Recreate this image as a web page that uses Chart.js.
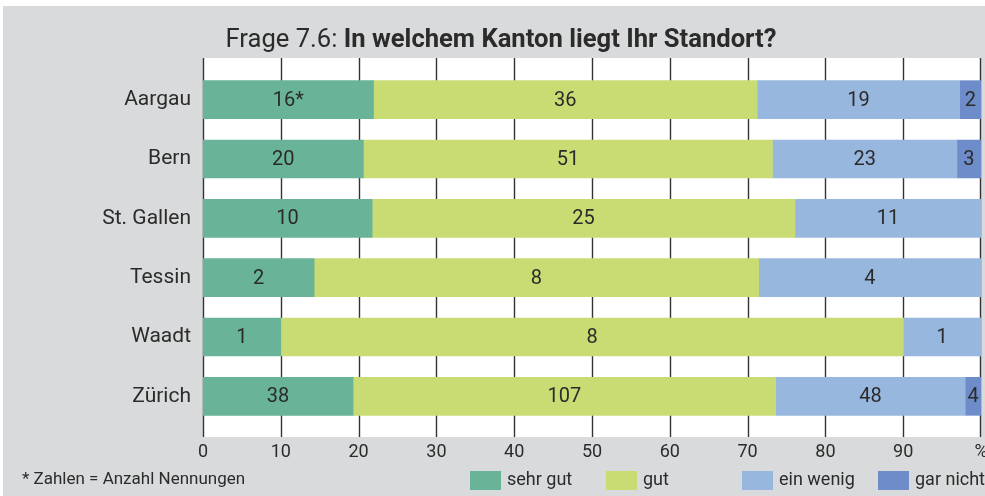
<!DOCTYPE html>
<html>
<head>
<meta charset="utf-8">
<script src="https://cdn.jsdelivr.net/npm/chart.js@4.4.0/dist/chart.umd.min.js"></script>
<style>
  body { margin: 0; background: #fff; }
  #wrap { position: absolute; left: 3px; top: 6px; }
</style>
</head>
<body>
<div id="wrap"><canvas id="kantonChart" width="982" height="490"></canvas></div>
<script>
// Anzahl Nennungen pro Kanton
const kantone = ['Aargau', 'Bern', 'St. Gallen', 'Tessin', 'Waadt', 'Zürich'];
const sehrGut = [16, 20, 10, 2, 1, 38];
const gut = [36, 51, 25, 8, 8, 107];
const einWenig = [19, 23, 11, 4, 1, 48];
const garNicht = [2, 3, 0, 0, 0, 4];
const xTickLabels = ['0', '10', '20', '30', '40', '50', '60', '70', '80', '90', '%'];

const serien = [
    { label: 'sehr gut', counts: sehrGut, color: '#69b398' },
    { label: 'gut', counts: gut, color: '#c9dc73' },
    { label: 'ein wenig', counts: einWenig, color: '#98b7df' },
    { label: 'gar nicht', counts: garNicht, color: '#6d8cc9' }
];

const totals = kantone.map((k, i) => serien.reduce((s, d) => s + d.counts[i], 0));

const FONT = "Roboto, sans-serif";
const TEXT = '#2b2b2b';

// hintergrund, weisse plotflaeche, titel, gitterlinien
const backdrop = {
    id: 'backdrop',
    beforeDraw(chart) {
        const { ctx, chartArea: a, width, height } = chart;
        ctx.save();
        ctx.fillStyle = '#d9dadb';
        ctx.fillRect(0, 0, width, height);
        ctx.fillStyle = '#fff';
        ctx.fillRect(a.left, a.top - 12, a.right - a.left, a.bottom - a.top + 23);

        // Titel: normal + fett
        const p1 = 'Frage 7.6: ';
        const p2 = 'In welchem Kanton liegt Ihr Standort?';
        ctx.fillStyle = TEXT;
        ctx.textBaseline = 'alphabetic';
        ctx.font = '25.6px ' + FONT;
        const w1 = ctx.measureText(p1).width;
        ctx.font = 'bold 25.6px ' + FONT;
        const w2 = ctx.measureText(p2).width;
        const x0 = 498 - (w1 + w2) / 2;
        ctx.font = '25.6px ' + FONT;
        ctx.fillText(p1, x0, 41);
        ctx.font = 'bold 25.6px ' + FONT;
        ctx.fillText(p2, x0 + w1, 41);
        ctx.restore();
    },
    beforeDatasetsDraw(chart) {
        const { ctx, chartArea: a, scales: { x } } = chart;
        ctx.save();
        ctx.strokeStyle = '#333';
        ctx.lineWidth = 1.4;
        for (let v = 0; v <= 100; v += 10) {
            const px = Math.round(x.getPixelForValue(v)) + (v === 100 ? -0.5 : 0.5);
            ctx.beginPath();
            ctx.moveTo(px, a.top - 12);
            ctx.lineTo(px, a.bottom + 11);
            ctx.stroke();
        }
        ctx.restore();
    },
    afterDatasetsDraw(chart) {
        const { ctx } = chart;
        ctx.save();
        ctx.font = '20px ' + FONT;
        ctx.fillStyle = TEXT;
        ctx.textAlign = 'center';
        ctx.textBaseline = 'middle';
        chart.data.datasets.forEach((ds, di) => {
            chart.getDatasetMeta(di).data.forEach((bar, i) => {
                const n = serien[di].counts[i];
                if (!n) return;
                const c = bar.getCenterPoint();
                const txt = (di === 0 && i === 0) ? n + '*' : String(n);
                ctx.fillText(txt, c.x, c.y + 1);
            });
        });

        // Legende + Fussnote
        ctx.font = '17px ' + FONT;
        ctx.textAlign = 'left';
        ctx.fillText('* Zahlen = Anzahl Nennungen', 19, 474);
        ctx.font = '18px ' + FONT;
        serien.forEach((s, i) => {
            const bx = 467 + i * 136;
            ctx.fillStyle = s.color;
            ctx.fillRect(bx, 465, 31, 19);
            ctx.fillStyle = TEXT;
            ctx.fillText(s.label, bx + 37, 474);
        });
        ctx.restore();
    }
};

new Chart(document.getElementById('kantonChart'), {
    type: 'bar',
    data: {
        labels: kantone,
        datasets: serien.map(s => ({
            label: s.label,
            data: s.counts.map((n, i) => n / totals[i] * 100),
            backgroundColor: s.color,
            borderWidth: 0,
            barThickness: 38
        }))
    },
    options: {
        indexAxis: 'y',
        responsive: false,
        animation: false,
        layout: { autoPadding: false, padding: { top: 64, right: 4, bottom: 0, left: 0 } },
        plugins: {
            legend: { display: false },
            tooltip: { enabled: false }
        },
        scales: {
            x: {
                stacked: true,
                min: 0,
                max: 100,
                afterFit: s => { s.height = 70; s.paddingLeft = 0; s.paddingRight = 0; },
                grid: { display: false, drawTicks: false },
                border: { display: false },
                ticks: {
                    stepSize: 10,
                    padding: 16,
                    color: TEXT,
                    font: { family: FONT, size: 18 },
                    callback: (v) => xTickLabels[v / 10]
                }
            },
            y: {
                stacked: true,
                afterFit: s => { s.width = 200; },
                grid: { display: false, drawTicks: false },
                border: { display: false },
                ticks: {
                    padding: 12,
                    color: TEXT,
                    font: { family: FONT, size: 21 }
                }
            }
        }
    },
    plugins: [backdrop]
});
</script>
</body>
</html>
